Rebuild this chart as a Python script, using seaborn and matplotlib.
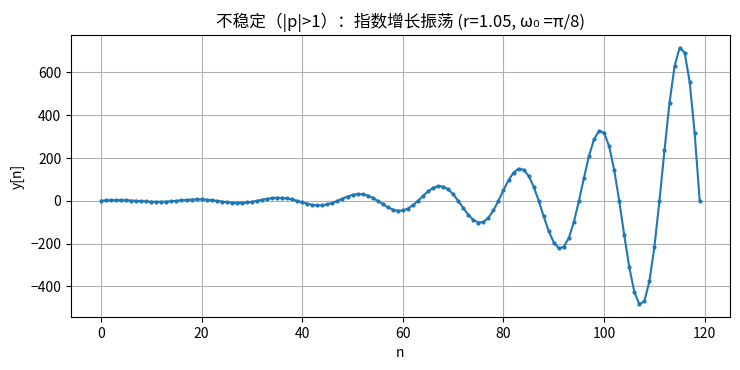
import numpy as np
import pandas as pd
import seaborn as sns
import matplotlib.pyplot as plt

# sample index and response values
n_values = list(range(120))
y_values = [
    1.00, 1.94, 2.66, 3.03, 2.93, 2.36, 1.34, 0.00,
    -1.55, -3.01, -4.13, -4.69, -4.55, -3.66, -2.08, 0.00,
    2.18, 4.24, 5.81, 6.60, 6.41, 5.15, 2.93, 0.00,
    -3.23, -6.26, -8.58, -9.76, -9.46, -7.61, -4.32, 0.00,
    4.76, 9.24, 12.68, 14.41, 13.98, 11.24, 6.39, 0.00,
    -7.04, -13.66, -18.74, -21.30, -20.66, -16.60, -9.43, 0.00,
    10.40, 20.18, 27.68, 31.46, 30.52, 24.53, 13.94, 0.00,
    -15.37, -29.82, -40.90, -46.49, -45.10, -36.24, -20.59, 0.00,
    22.70, 44.05, 60.43, 68.68, 66.63, 53.55, 30.43, 0.00,
    -33.55, -65.08, -89.29, -101.47, -98.44, -79.11, -44.95, 0.00,
    49.56, 96.16, 131.92, 149.92, 145.44, 116.88, 66.42, 0.00,
    -73.22, -142.07, -194.90, -221.51, -214.88, -172.69, -98.13, 0.00,
    108.19, 209.90, 287.96, 327.27, 317.47, 255.14, 144.98, 0.00,
    -159.84, -310.12, -425.44, -483.52, -469.05, -376.95, -214.20, 0.00,
    236.16, 458.19, 628.57, 714.38, 693.00, 556.93, 316.47, 0.00,
]

title = "不稳定（|p|>1）：指数增长振荡 (r=1.05, ω₀ =π/8)"

plt.rcParams['font.family'] = ['Noto Sans CJK SC', 'DejaVu Sans']
plt.rcParams['axes.unicode_minus'] = True

df = pd.DataFrame({"n": n_values, "y": y_values})

fig, ax = plt.subplots(figsize=(7.4, 3.7), dpi=100)
sns.lineplot(data=df, x="n", y="y", ax=ax, color="#1f77b4",
             marker="o", markersize=3, markeredgewidth=0, linewidth=1.5)

ax.set_title(title, fontsize=12)
ax.set_xlabel("n")
ax.set_ylabel("y[n]")
ax.grid(True, color="#b0b0b0", linewidth=0.8)
ax.set_xticks([0, 20, 40, 60, 80, 100, 120])

fig.subplots_adjust(left=0.096, right=0.986, top=0.905, bottom=0.143)
plt.savefig("out.png")
plt.close()
